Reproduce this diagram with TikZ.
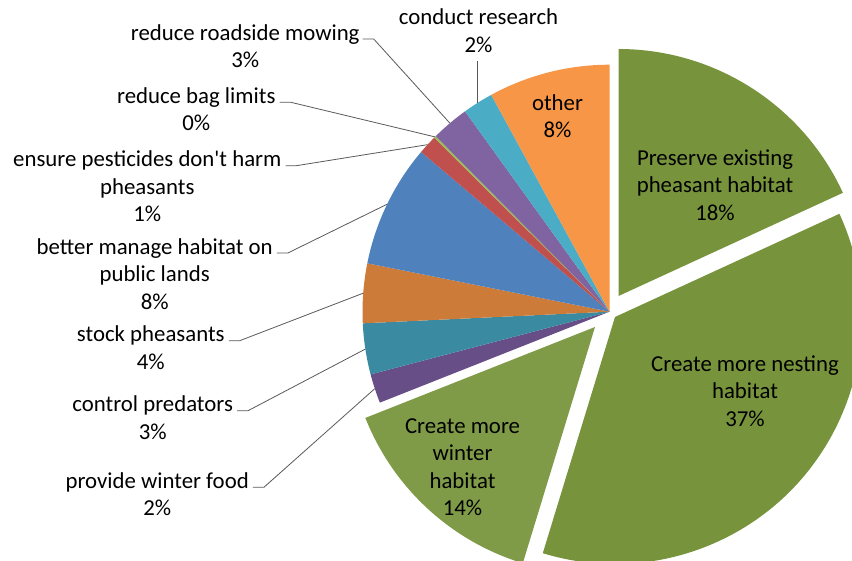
\documentclass[tikz,border=0pt]{standalone}
\usepackage{fontspec}
\setmainfont{Carlito}
\usetikzlibrary{calc}
\definecolor{cpres}{HTML}{77933C}
\definecolor{cnest}{HTML}{77933C}
\definecolor{cwint}{HTML}{7F9B48}
\definecolor{cfood}{HTML}{674E87}
\definecolor{cpred}{HTML}{3A8BA1}
\definecolor{cstock}{HTML}{CC7B38}
\definecolor{cblue}{HTML}{4F81BD}
\definecolor{cred}{HTML}{C0504D}
\definecolor{cgreen}{HTML}{9BBB59}
\definecolor{cpurp}{HTML}{8064A2}
\definecolor{caqua}{HTML}{4BACC6}
\definecolor{cother}{HTML}{F79646}
\begin{document}
\begin{tikzpicture}[x=1pt,y=-1pt,
  lbl/.style={font=\fontsize{22.8}{27.5}\selectfont, align=center, inner sep=0pt, anchor=north, text=black},
  leader/.style={draw=black!65, line width=0.8pt},
  wedge/.style={fill=#1, draw=none}]
\useasboundingbox (0,0) rectangle (852,560);
\clip (0,0) rectangle (852,560);
% centres
\coordinate (c) at (609.5,311.7);
\coordinate (cp) at (618.5,296);
\coordinate (cn) at (615,317);
\coordinate (cw) at (595,327);
% exploded slices
\path[wedge=cpres] (cp) -- ++(-90:247) arc[start angle=-90, end angle=-24.7, radius=247] -- cycle;
\path[wedge=cnest] (cn) -- ++(-24.7:247) arc[start angle=-24.7, end angle=107, radius=247] -- cycle;
\path[wedge=cwint] (cw) -- ++(107:247) arc[start angle=107, end angle=158.4, radius=247] -- cycle;
% small slices
\path[wedge=cfood] (c) -- ++(158.4:247) arc[start angle=158.4, end angle=165.3, radius=247] -- cycle;
\path[wedge=cpred] (c) -- ++(165.3:247) arc[start angle=165.3, end angle=177.3, radius=247] -- cycle;
\path[wedge=cstock] (c) -- ++(177.3:247) arc[start angle=177.3, end angle=191.3, radius=247] -- cycle;
\path[wedge=cblue] (c) -- ++(191.3:247) arc[start angle=191.3, end angle=220.3, radius=247] -- cycle;
\path[wedge=cred] (c) -- ++(220.3:247) arc[start angle=220.3, end angle=224.8, radius=247] -- cycle;
\path[wedge=cgreen] (c) -- ++(224.8:247) arc[start angle=224.8, end angle=225.3, radius=247] -- cycle;
\path[wedge=cpurp] (c) -- ++(225.3:247) arc[start angle=225.3, end angle=234.2, radius=247] -- cycle;
\path[wedge=caqua] (c) -- ++(234.2:247) arc[start angle=234.2, end angle=241.4, radius=247] -- cycle;
\path[wedge=cother] (c) -- ++(241.4:247) arc[start angle=241.4, end angle=270, radius=247] -- cycle;
% leader end points on the slices
\coordinate (pfood) at ($(c)+(161.85:247)$);
\coordinate (ppred) at ($(c)+(171.3:247)$);
\coordinate (pstock) at ($(c)+(184.3:247)$);
\coordinate (pblue) at ($(c)+(205.8:247)$);
\coordinate (pred) at ($(c)+(222.55:247)$);
\coordinate (pgreen) at ($(c)+(225.05:247)$);
\coordinate (ppurp) at ($(c)+(229.75:247)$);
\coordinate (paqua) at ($(c)+(237.8:247)$);
% inside labels
\node[lbl] (lother) at (557.5,90.75) {\strut other\\8\%};
\node[lbl] (lpres) at (715,145.75) {\strut Preserve existing\\pheasant habitat\\18\%};
\node[lbl] (lnest) at (745,351.75) {\strut Create more nesting\\habitat\\37\%};
\node[lbl] (lwint) at (462.5,414) {\strut Create more\\winter\\habitat\\14\%};
% outside labels
\node[lbl] (lres) at (478.5,5.25) {\strut conduct research\\2\%};
\node[lbl] (lroad) at (245.2,20.75) {\strut reduce roadside mowing\\3\%};
\node[lbl] (lbag) at (196.3,84) {\strut reduce bag limits\\0\%};
\node[lbl] (lpest) at (147.3,147.4) {\strut ensure pesticides don\textquotesingle t harm\\pheasants\\1\%};
\node[lbl] (lbett) at (154.7,234.75) {\strut better manage habitat on\\public lands\\8\%};
\node[lbl] (lstock) at (150.8,322.4) {\strut stock pheasants\\4\%};
\node[lbl] (lpred) at (152.7,392.4) {\strut control predators\\3\%};
\node[lbl] (lfood) at (157.2,469) {\strut provide winter food\\2\%};
% leaders
\draw[leader] ($(lroad.north east)+(3,18.25)$) -- ++(11,0) -- (ppurp);
\draw[leader] ($(lbag.north east)+(4,18.25)$) -- ++(11,0) -- (pgreen);
\draw[leader] ($(lpest.north east)+(4,18.25)$) -- ++(11,0) -- (pred);
\draw[leader] ($(lbett.north east)+(4,18.25)$) -- ++(11,0) -- (pblue);
\draw[leader] ($(lstock.north east)+(4,18.25)$) -- ++(11,0) -- (pstock);
\draw[leader] ($(lpred.north east)+(4,18.25)$) -- ++(11,0) -- (ppred);
\draw[leader] ($(lfood.north east)+(4,18.25)$) -- ++(11,0) -- (pfood);
\draw[leader] (paqua) -- ($(paqua |- lres.south)+(0,8)$);
\end{tikzpicture}
\end{document}
